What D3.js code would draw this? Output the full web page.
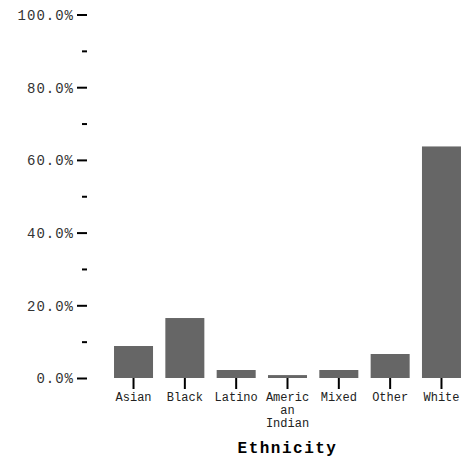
<!DOCTYPE html>
<html><head><meta charset="utf-8">
<script src="https://cdn.jsdelivr.net/npm/d3@7"></script>
<style>body{margin:0;background:#fff}svg{display:block}</style>
</head><body><svg id="c" width="466" height="459"></svg>
<script>
const categories = ["Asian","Black","Latino","American Indian","Mixed","Other","White"];
const labelLines = [["Asian"],["Black"],["Latino"],["Americ","an","Indian"],["Mixed"],["Other"],["White"]];
const values = [0.088,0.165,0.022,0.008,0.022,0.066,0.637];
const majorTicks = [0,0.2,0.4,0.6,0.8,1.0];
const minorTicks = [0.1,0.3,0.5,0.7,0.9];
const xTitle = "Ethnicity";

const svg = d3.select("#c");
const font = "'Liberation Mono','Courier New',monospace";
const x = d3.scaleBand().domain(categories).range([101.7,473.3]).paddingInner(0.24).paddingOuter(0.24);
const y = d3.scaleLinear().domain([0,1]).range([378,14.5]);

svg.selectAll("rect.bar").data(values).join("rect").attr("class","bar")
  .attr("x",(d,i)=>x(categories[i])).attr("width",x.bandwidth())
  .attr("y",d=>y(d)).attr("height",d=>y(0)-y(d)).attr("fill","#666666");

const yAxis = svg.append("g").attr("transform","translate(87,0)")
  .call(d3.axisLeft(y).tickValues(majorTicks).tickFormat(d3.format(".1%")).tickSize(10).tickPadding(3));
yAxis.select(".domain").remove();
yAxis.selectAll("line").attr("stroke","#000").attr("stroke-width",2);
yAxis.selectAll("text").attr("font-family",font).attr("font-size",14).attr("fill","#333")
  .attr("letter-spacing",1).attr("dy","0.35em");

const yMinor = svg.append("g").attr("transform","translate(87,0)")
  .call(d3.axisLeft(y).tickValues(minorTicks).tickFormat("").tickSize(5));
yMinor.select(".domain").remove();
yMinor.selectAll("line").attr("stroke","#000").attr("stroke-width",2);

const xAxis = svg.append("g").attr("transform","translate(0,378)")
  .call(d3.axisBottom(x).tickSize(11).tickFormat(""));
xAxis.select(".domain").remove();
xAxis.selectAll("line").attr("stroke","#000").attr("stroke-width",2);
xAxis.selectAll(".tick").each(function(d,i){
  const t = d3.select(this).append("text").attr("font-family",font).attr("font-size",12)
    .attr("fill","#222").attr("text-anchor","middle").attr("y",23);
  labelLines[i].forEach((l,j)=>t.append("tspan").attr("x",0).attr("dy",j?13:0).text(l));
});

svg.append("text").attr("x",(x.range()[0]+x.range()[1])/2).attr("y",453)
  .attr("text-anchor","middle").attr("font-family",font).attr("font-weight","bold")
  .attr("font-size",16).attr("letter-spacing",1.5).text(xTitle);
</script></body></html>
